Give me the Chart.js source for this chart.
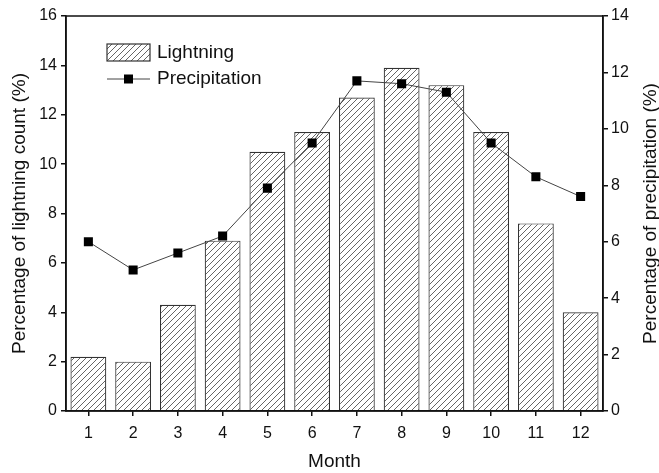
<!DOCTYPE html>
<html><head><meta charset="utf-8">
<script src="https://cdn.jsdelivr.net/npm/chart.js@4"></script>
<style>html,body{margin:0;padding:0;background:#fff}#wrap{width:659px;height:473px}</style>
</head><body><div id="wrap"><canvas id="c" width="659" height="473"></canvas></div>
<script>
const months = ['1','2','3','4','5','6','7','8','9','10','11','12'];
const lightning = [2.2, 2.0, 4.3, 6.9, 10.5, 11.3, 12.7, 13.9, 13.2, 11.3, 7.6, 4.0];
const precipitation = [6.0, 5.0, 5.6, 6.2, 7.9, 9.5, 11.7, 11.6, 11.3, 9.5, 8.3, 7.6];
const leftTicks = [0, 2, 4, 6, 8, 10, 12, 14, 16];
const rightTicks = [0, 2, 4, 6, 8, 10, 12, 14];

const FONT = '"Liberation Sans", Arial, sans-serif';

function makeHatch() {
  const s = 6;
  const pc = document.createElement('canvas');
  pc.width = s; pc.height = s;
  const g = pc.getContext('2d');
  g.fillStyle = '#fff'; g.fillRect(0, 0, s, s);
  g.strokeStyle = '#555'; g.lineWidth = 0.9;
  g.beginPath();
  g.moveTo(0, s); g.lineTo(s, 0);
  g.moveTo(-1, 1); g.lineTo(1, -1);
  g.moveTo(s - 1, s + 1); g.lineTo(s + 1, s - 1);
  g.stroke();
  return g.createPattern(pc, 'repeat');
}
const hatch = makeHatch();

const framePlugin = {
  id: 'frame',
  afterDraw(chart) {
    const { ctx, chartArea: a } = chart;
    ctx.save();
    ctx.strokeStyle = '#111'; ctx.lineWidth = 1.5;
    ctx.strokeRect(a.left, a.top, a.right - a.left, a.bottom - a.top);
    // legend
    const lx = a.left + 41, ly = a.top + 28;
    ctx.fillStyle = hatch;
    ctx.fillRect(lx, ly, 43, 17);
    ctx.strokeStyle = '#333'; ctx.lineWidth = 1.2;
    ctx.strokeRect(lx, ly, 43, 17);
    ctx.fillStyle = '#111';
    ctx.font = '19px ' + FONT;
    ctx.textBaseline = 'middle'; ctx.textAlign = 'left';
    ctx.fillText('Lightning', lx + 50, ly + 9);
    const py = ly + 35;
    ctx.strokeStyle = '#444'; ctx.lineWidth = 1;
    ctx.beginPath(); ctx.moveTo(lx, py); ctx.lineTo(lx + 43, py); ctx.stroke();
    ctx.fillStyle = '#000';
    ctx.fillRect(lx + 21.5 - 4.5, py - 4.5, 9, 9);
    ctx.fillStyle = '#111';
    ctx.fillText('Precipitation', lx + 50, py);
    // axis titles
    ctx.font = '19px ' + FONT;
    ctx.textAlign = 'center'; ctx.textBaseline = 'middle';
    ctx.fillText('Month', (a.left + a.right) / 2, 462);
    ctx.save();
    ctx.translate(20, (a.top + a.bottom) / 2);
    ctx.rotate(-Math.PI / 2);
    ctx.fillText('Percentage of lightning count (%)', 0, 0);
    ctx.restore();
    ctx.save();
    ctx.translate(651, (a.top + a.bottom) / 2);
    ctx.rotate(-Math.PI / 2);
    ctx.fillText('Percentage of precipitation (%)', 0, 0);
    ctx.restore();
    ctx.restore();
  }
};

new Chart(document.getElementById('c'), {
  data: {
    labels: months,
    datasets: [
      {
        type: 'line', label: 'Precipitation', data: precipitation, yAxisID: 'y2',
        borderColor: '#444', borderWidth: 1, pointStyle: 'rect', pointRadius: 6.4,
        pointBackgroundColor: '#000', pointBorderColor: '#000', pointBorderWidth: 0,
        tension: 0, order: 0
      },
      {
        type: 'bar', label: 'Lightning', data: lightning, yAxisID: 'y',
        backgroundColor: hatch, borderColor: '#333', borderWidth: 1.2,
        barPercentage: 0.8, categoryPercentage: 1.0, order: 1
      }
    ]
  },
  options: {
    responsive: false, animation: false,
    layout: { padding: { top: 16, left: 0, right: 0, bottom: 0 } },
    plugins: { legend: { display: false }, tooltip: { enabled: false } },
    scales: {
      x: {
        type: 'category', offset: true,
        grid: { display: true, drawOnChartArea: false, drawTicks: true, tickLength: 5, color: '#111', lineWidth: 1.5, offset: false },
        border: { display: true, color: '#111', width: 1.5 },
        ticks: { color: '#111', font: { size: 16, family: FONT }, padding: 8, maxRotation: 0 },
        afterFit(s) { s.height = 62; }
      },
      y: {
        position: 'left', min: 0, max: 16,
        afterBuildTicks(s) { s.ticks = leftTicks.map(v => ({ value: v })); },
        grid: { drawOnChartArea: false, drawTicks: true, tickLength: 5, color: '#111', lineWidth: 1.5 },
        border: { display: true, color: '#111', width: 1.5 },
        ticks: { color: '#111', font: { size: 16, family: FONT }, padding: 4 },
        afterFit(s) { s.width = 66; }
      },
      y2: {
        position: 'right', min: 0, max: 14,
        afterBuildTicks(s) { s.ticks = rightTicks.map(v => ({ value: v })); },
        grid: { drawOnChartArea: false, drawTicks: true, tickLength: 5, color: '#111', lineWidth: 1.5 },
        border: { display: true, color: '#111', width: 1.5 },
        ticks: { color: '#111', font: { size: 16, family: FONT }, padding: 3 },
        afterFit(s) { s.width = 56; }
      }
    }
  },
  plugins: [framePlugin]
});
</script></body></html>
